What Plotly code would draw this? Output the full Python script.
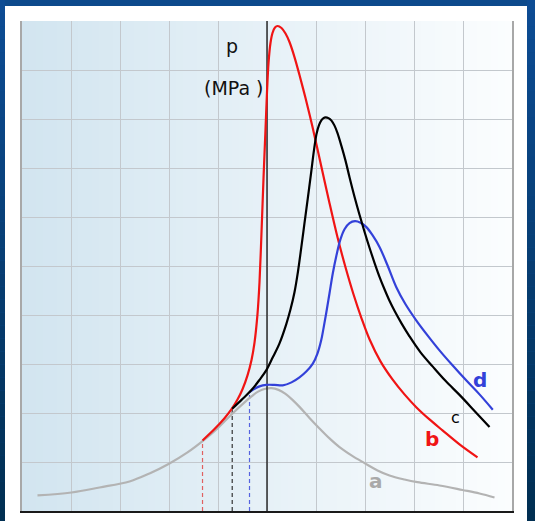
import plotly.graph_objects as go

# Curve a: baseline pressure trace
a_x = [0.316, 1.010, 1.582, 2.194, 2.602, 3.010, 3.378, 3.704, 3.990, 4.276, 4.541, 4.684, 4.827, 4.969,
       5.092, 5.235, 5.378, 5.520, 5.663, 5.867, 6.071, 6.276, 6.480, 6.724, 6.990, 7.255, 7.500, 7.806,
       8.071, 8.520, 8.990, 9.337, 9.643]
a_y = [0.317, 0.378, 0.480, 0.603, 0.766, 0.970, 1.195, 1.440, 1.685, 1.971, 2.217, 2.339, 2.441, 2.496,
       2.507, 2.472, 2.390, 2.268, 2.125, 1.900, 1.685, 1.481, 1.303, 1.134, 0.977, 0.828, 0.725, 0.643,
       0.588, 0.521, 0.429, 0.358, 0.276]

# Curve b
b_x = [3.684, 3.929, 4.133, 4.276, 4.398, 4.500, 4.602, 4.684, 4.745, 4.806, 4.847, 4.888, 4.929, 4.969,
       5.000, 5.031, 5.071, 5.112, 5.163, 5.214, 5.296, 5.378, 5.459, 5.561, 5.663, 5.786, 5.929, 6.112,
       6.276, 6.439, 6.602, 6.765, 6.929, 7.092, 7.316, 7.561, 7.806, 8.051, 8.316, 8.582, 8.929, 9.296]
b_y = [1.440, 1.673, 1.894, 2.078, 2.274, 2.484, 2.768, 3.083, 3.436, 4.018, 4.668, 5.689, 6.793, 7.773,
       8.550, 9.142, 9.551, 9.755, 9.867, 9.898, 9.857, 9.745, 9.571, 9.264, 8.897, 8.427, 7.835, 7.017,
       6.282, 5.587, 4.974, 4.423, 3.933, 3.504, 3.054, 2.686, 2.380, 2.114, 1.869, 1.645, 1.359, 1.093]

# Curve c
c_x = [4.290, 4.480, 4.678, 4.847, 4.990, 5.118, 5.255, 5.392, 5.480, 5.561, 5.633, 5.698, 5.765, 5.833,
       5.902, 5.959, 6.010, 6.061, 6.112, 6.153, 6.194, 6.255, 6.316, 6.378, 6.439, 6.520, 6.602, 6.684,
       6.786, 6.888, 6.990, 7.092, 7.194, 7.296, 7.398, 7.500, 7.602, 7.745, 7.908, 8.133, 8.384, 8.643,
       8.929, 9.235, 9.541]
c_y = [2.088, 2.268, 2.462, 2.676, 2.880, 3.136, 3.422, 3.810, 4.116, 4.464, 4.893, 5.363, 5.873, 6.384,
       6.915, 7.365, 7.691, 7.875, 7.978, 8.018, 8.033, 8.018, 7.967, 7.865, 7.712, 7.446, 7.150, 6.813,
       6.415, 6.047, 5.700, 5.373, 5.066, 4.780, 4.525, 4.290, 4.086, 3.830, 3.565, 3.238, 2.946, 2.656,
       2.370, 2.043, 1.712]

# Curve d
d_x = [4.643, 4.745, 4.847, 4.984, 5.153, 5.322, 5.500, 5.663, 5.806, 5.935, 6.031, 6.106, 6.153, 6.208,
       6.276, 6.343, 6.418, 6.500, 6.582, 6.684, 6.796, 6.908, 7.024, 7.153, 7.296, 7.459, 7.637, 7.827,
       8.045, 8.276, 8.520, 8.786, 9.065, 9.337, 9.608]
d_y = [2.427, 2.492, 2.543, 2.574, 2.574, 2.564, 2.625, 2.727, 2.850, 3.007, 3.218, 3.483, 3.728, 4.035,
       4.444, 4.852, 5.220, 5.547, 5.751, 5.874, 5.914, 5.884, 5.798, 5.628, 5.389, 5.015, 4.572, 4.219,
       3.892, 3.585, 3.279, 2.973, 2.666, 2.380, 2.067]

ref_x = 5.0  # vertical reference line

curve_labels = ["a", "b", "c", "d"]
label_x = [7.22, 8.36, 8.85, 9.34]
label_y = [0.62, 1.46, 1.91, 2.67]

GRAY, RED, BLACK, BLUE = "#b3b3b3", "#f01414", "#000000", "#3341d9"

fig = go.Figure()

# Dashed drop lines from the start of each curve to the x axis
for xs, ys, col in [(b_x, b_y, "#e06060"), (c_x, c_y, "#333333"), (d_x, d_y, "#5563e0")]:
    fig.add_trace(go.Scatter(x=[xs[0], xs[0]], y=[0, ys[0]], mode="lines",
                             line=dict(color=col, width=1.2, dash="4px,3px"),
                             hoverinfo="skip", showlegend=False))

fig.add_trace(go.Scatter(x=a_x, y=a_y, mode="lines",
                         line=dict(color=GRAY, width=2.2, shape="spline", smoothing=1.0),
                         showlegend=False))

fig.add_trace(go.Scatter(x=[ref_x, ref_x], y=[0, 10], mode="lines", line=dict(color="#111111", width=1.3),
                         hoverinfo="skip", showlegend=False))

fig.add_trace(go.Scatter(x=b_x, y=b_y, mode="lines",
                         line=dict(color=RED, width=2.2, shape="spline", smoothing=0.9),
                         showlegend=False))
fig.add_trace(go.Scatter(x=d_x, y=d_y, mode="lines",
                         line=dict(color=BLUE, width=2.2, shape="spline", smoothing=1.0),
                         showlegend=False))
fig.add_trace(go.Scatter(x=c_x, y=c_y, mode="lines",
                         line=dict(color=BLACK, width=2.2, shape="spline", smoothing=1.0),
                         showlegend=False))

# Curve labels
label_cols = ["#a9a9a9", RED, BLACK, BLUE]
label_bold = [True, True, False, True]
label_size = [20, 20, 16, 20]
for t, x, y, c, bold, s in zip(curve_labels, label_x, label_y, label_cols, label_bold, label_size):
    fig.add_annotation(x=x, y=y, text=f"<b>{t}</b>" if bold else t, showarrow=False,
                       font=dict(family="DejaVu Sans", size=s, color=c))

# Axis title written inside the plot
fig.add_annotation(x=4.28, y=9.48, text="p", showarrow=False,
                   font=dict(family="DejaVu Sans", size=19, color="#111111"))
fig.add_annotation(x=4.32, y=8.64, text="(MPa )", showarrow=False,
                   font=dict(family="DejaVu Sans", size=19, color="#111111"))

# Page geometry (pixels)
W, H = 535, 521
L, R, T, B = 22, 23, 21, 10
pw, ph = W - L - R, H - T - B


def px(xp):
    return (xp - L) / pw


def py(yp):
    return (H - B - yp) / ph


shapes = []


def hexmix(c1, c2, f):
    a = [int(c1[i:i + 2], 16) for i in (1, 3, 5)]
    b = [int(c2[i:i + 2], 16) for i in (1, 3, 5)]
    return "#" + "".join(f"{round(a[i] + (b[i] - a[i]) * f):02x}" for i in range(3))


# Blue frame: vertical gradient strips on the sides
n = 40
for i in range(n):
    y0 = H * i / n
    y1 = H * (i + 1) / n
    col = hexmix("#0d4c94", "#012f52", i / (n - 1))
    for xa, xb in [(0, 5), (527, W)]:
        shapes.append(dict(type="rect", xref="paper", yref="paper", x0=px(xa), x1=px(xb),
                           y0=py(y1), y1=py(y0), fillcolor=col, line_width=0, layer="below"))

# White panel
shapes.append(dict(type="rect", xref="paper", yref="paper", x0=px(5), x1=px(527), y0=py(H), y1=py(6),
                   fillcolor="white", line_width=0, layer="below"))

# Plot area background: light blue to white horizontal gradient
m = 70
for i in range(m):
    col = hexmix("#d2e5f0", "#fbfdfe", i / (m - 1))
    shapes.append(dict(type="rect", xref="paper", yref="paper", x0=i / m, x1=(i + 1) / m + 0.002,
                       y0=0, y1=1, fillcolor=col, line_width=0, layer="below"))

fig.update_layout(
    width=W, height=H,
    margin=dict(l=L, r=R, t=T, b=B, pad=0),
    paper_bgcolor="#0d4a8c",
    plot_bgcolor="rgba(0,0,0,0)",
    shapes=shapes,
    showlegend=False,
)
fig.update_xaxes(range=[0, 10], dtick=1, showticklabels=False, ticks="", showgrid=True,
                 gridcolor="#c3c8cd", gridwidth=1, zeroline=False,
                 showline=True, linecolor="#1a1a1a", linewidth=2)
fig.update_yaxes(range=[0, 10], dtick=1, showticklabels=False, ticks="", showgrid=True,
                 gridcolor="#c3c8cd", gridwidth=1, zeroline=False,
                 showline=True, linecolor="#a8a8a8", linewidth=1.5, mirror=True)

fig.write_html("out.html")
